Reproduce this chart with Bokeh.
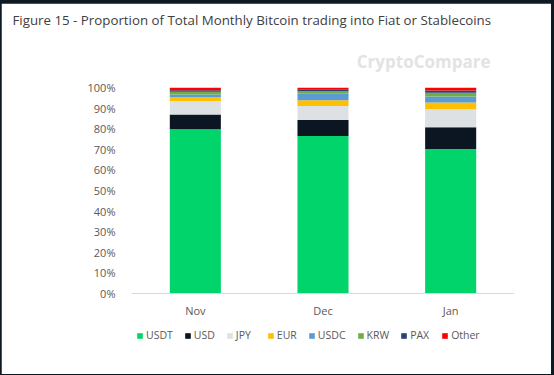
from bokeh.plotting import figure
from bokeh.models import Range1d, FactorRange, Legend, LegendItem, FixedTicker, Title
from bokeh.embed import file_html
from bokeh.resources import INLINE

months = ["Nov", "Dec", "Jan"]
series = ["USDT", "USD", "JPY", "EUR", "USDC", "KRW", "PAX", "Other"]
usdt = [79.7, 76.5, 70.2]
usd = [7.2, 7.7, 10.5]
jpy = [6.6, 6.8, 8.8]
eur = [1.8, 2.8, 3.2]
usdc = [1.3, 3.2, 2.9]
krw = [1.3, 1.3, 1.9]
pax = [0.8, 0.8, 1.1]
other = [1.3, 0.9, 1.4]
y_ticks = [0, 10, 20, 30, 40, 50, 60, 70, 80, 90, 100]
y_tick_labels = ["0%", "10%", "20%", "30%", "40%", "50%", "60%", "70%", "80%", "90%", "100%"]

colors = ["#00d46a", "#0b1622", "#dde1e4", "#ffc000", "#5b9bd5", "#70ad47", "#264478", "#ff0000"]

data = {"month": months}
for name, vals in zip(series, [usdt, usd, jpy, eur, usdc, krw, pax, other]):
    data[name] = vals

p = figure(width=550, height=371, x_range=FactorRange(*months), y_range=Range1d(-24.27, 100),
           output_backend="svg", toolbar_location=None, margin=(3, 3, 1, 1), title=None,
           min_border_left=130, min_border_right=37, min_border_top=84, min_border_bottom=31)
p.outline_line_color = "white"
p.outline_line_width = 1
p.background_fill_color = "white"
p.border_fill_color = "white"
p.xgrid.grid_line_color = None
p.ygrid.grid_line_color = None

rs = p.vbar_stack(series, x="month", width=0.4, color=colors, source=data, line_width=0)

p.yaxis.ticker = FixedTicker(ticks=y_ticks)
p.yaxis.major_label_overrides = {t: l for t, l in zip(y_ticks, y_tick_labels)}
p.yaxis.axis_line_color = None
p.yaxis.major_tick_line_color = None
p.yaxis.minor_tick_line_color = None
p.yaxis.major_label_text_color = "#595959"
p.yaxis.major_label_text_font = "Open Sans"
p.yaxis.major_label_text_font_size = "11px"
p.yaxis.major_label_standoff = 10

p.xaxis.fixed_location = 0
p.xaxis.axis_line_color = "#d9d9d9"
p.xaxis.major_tick_line_color = None
p.xaxis.minor_tick_line_color = None
p.xaxis.major_label_text_color = "#595959"
p.xaxis.major_label_text_font = "Open Sans"
p.xaxis.major_label_text_font_size = "11px"
p.xaxis.major_label_standoff = 3

legend = Legend(items=[LegendItem(label=s, renderers=[r]) for s, r in zip(series, rs)],
                orientation="horizontal", location=(5, 1), glyph_width=7, glyph_height=7,
                label_standoff=3, spacing=11, padding=0, margin=0, border_line_color=None,
                label_text_font="Open Sans", label_text_font_size="10.5px", label_text_color="#595959",
                label_height=13, background_fill_alpha=0)
p.add_layout(legend)

wm = Title(text="CryptoCompare", text_font="Open Sans", text_font_size="17px",
           text_font_style="bold", text_color="#e3e3e3", align="right", offset=24, standoff=29)
p.add_layout(wm, "above")

title = Title(text="Figure 15 - Proportion of Total Monthly Bitcoin trading into Fiat or Stablecoins",
              text_font="Open Sans", text_font_size="13.3px", text_font_style="normal",
              text_color="#404040", align="left", offset=-119, standoff=10)
p.add_layout(title, "above")

html = file_html(p, INLINE)
html = html.replace("<head>", "<head><style>html,body{background:#0e1a22;margin:0;padding:0;}</style>", 1)
open("out.html", "w").write(html)
